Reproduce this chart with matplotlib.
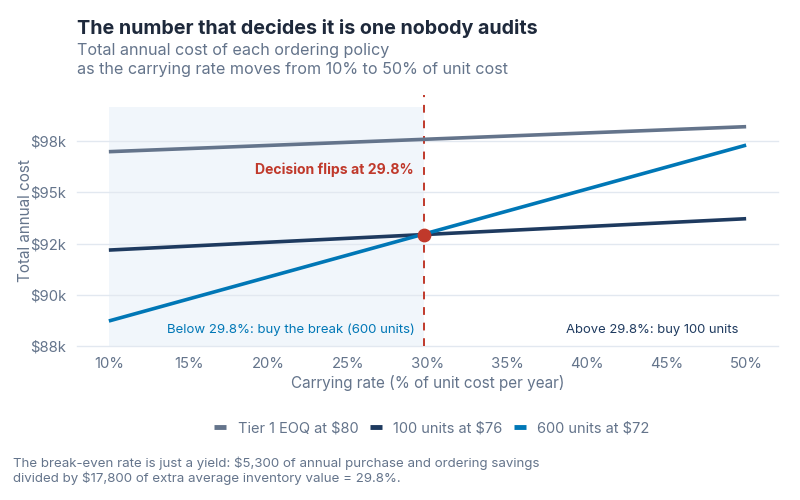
import matplotlib
matplotlib.use("Agg")
import matplotlib.pyplot as plt
from matplotlib.ticker import FuncFormatter, MultipleLocator
import numpy as np

plt.rcParams['font.family'] = ['Inter', 'DejaVu Sans']

# Data
rates = [10, 50]                       # carrying rate, % of unit cost
tier1_eoq = [96980, 98200]             # Tier 1 EOQ at $80
units_100 = [92180, 93710]             # 100 units at $76
units_600 = [88720, 97300]             # 600 units at $72
series_names = ["Tier 1 EOQ at $80", "100 units at $76", "600 units at $72"]
breakeven = 29.8
x_ticks = [10, 15, 20, 25, 30, 35, 40, 45, 50]

c_tier1 = "#64748b"
c_100 = "#1e3a5f"
c_600 = "#0077b6"
c_red = "#c0392b"
c_text = "#1e293b"
c_muted = "#64748b"
c_grid = "#e2e8f0"

fig = plt.figure(figsize=(8, 5), dpi=100)
ax = fig.add_axes([0.09625, 0.308, 0.87625, 0.503])

ax.axvspan(rates[0], breakeven, ymin=0, ymax=(99180 - 87500) / (99770 - 87500),
           color="#f1f6fb", zorder=0, lw=0)

ax.plot(rates, tier1_eoq, color=c_tier1, lw=2.6, label=series_names[0], zorder=3, solid_capstyle="butt")
ax.plot(rates, units_100, color=c_100, lw=2.6, label=series_names[1], zorder=3, solid_capstyle="butt")
ax.plot(rates, units_600, color=c_600, lw=2.6, label=series_names[2], zorder=3, solid_capstyle="butt")

ax.axvline(breakeven, color=c_red, lw=1.4, ls=(0, (4, 4)), zorder=2)
y_be = np.interp(breakeven, rates, units_100)
ax.scatter([breakeven], [y_be], s=80, color=c_red, zorder=5)

ax.text(breakeven - 0.7, 96100, f"Decision flips at {breakeven}%", color=c_red,
        fontsize=10.1, fontweight="bold", ha="right", va="center")
ax.text(breakeven - 0.6, 88300, f"Below {breakeven}%: buy the break (600 units)",
        color=c_600, fontsize=9.5, ha="right", va="center")
ax.text(49.5, 88300, f"Above {breakeven}%: buy 100 units",
        color=c_100, fontsize=9.4, ha="right", va="center")

ax.set_xlim(8, 52)
ax.set_ylim(87500, 99770)
ax.set_xticks(x_ticks)
ax.xaxis.set_major_formatter(FuncFormatter(lambda v, p: f"{v:.0f}%"))
ax.yaxis.set_major_locator(MultipleLocator(2500))
ax.yaxis.set_major_formatter(FuncFormatter(lambda v, p: f"${v/1000:.0f}k"))
ax.grid(axis="y", color=c_grid, lw=1)
for gl in ax.get_ygridlines():
    gl.set_clip_on(False)
ax.set_axisbelow(True)
for s in ax.spines.values():
    s.set_visible(False)
ax.tick_params(length=0, labelsize=10.7, colors=c_muted, pad=8)
ax.set_xlabel("Carrying rate (% of unit cost per year)", fontsize=11, color=c_muted, labelpad=3)
ax.set_ylabel("Total annual cost", fontsize=11, color=c_muted)
ax.yaxis.set_label_coords(-0.063, 0.5)

leg = fig.legend(loc="center", bbox_to_anchor=(0.54, 0.144), ncol=3, frameon=False,
                 fontsize=10.5, handlelength=0.8, handletextpad=0.8, columnspacing=0.8)
for t in leg.get_texts():
    t.set_color(c_muted)
for h in leg.legend_handles:
    h.set_linewidth(3.5)

fig.text(0.09625, 0.944, "The number that decides it is one nobody audits", fontsize=14.2,
         fontweight="bold", color=c_text, ha="left", va="center")
fig.text(0.09625, 0.899, "Total annual cost of each ordering policy", fontsize=11.6,
         color=c_muted, ha="left", va="center")
fig.text(0.09625, 0.861, "as the carrying rate moves from 10% to 50% of unit cost", fontsize=11.6,
         color=c_muted, ha="left", va="center")
fig.text(0.016, 0.059, "The break-even rate is just a yield: $5,300 of annual purchase and ordering savings\n"
         "divided by $17,800 of extra average inventory value = 29.8%.", fontsize=9.55,
         color=c_muted, ha="left", va="center", linespacing=1.1)

fig.savefig("out.png", dpi=100)
